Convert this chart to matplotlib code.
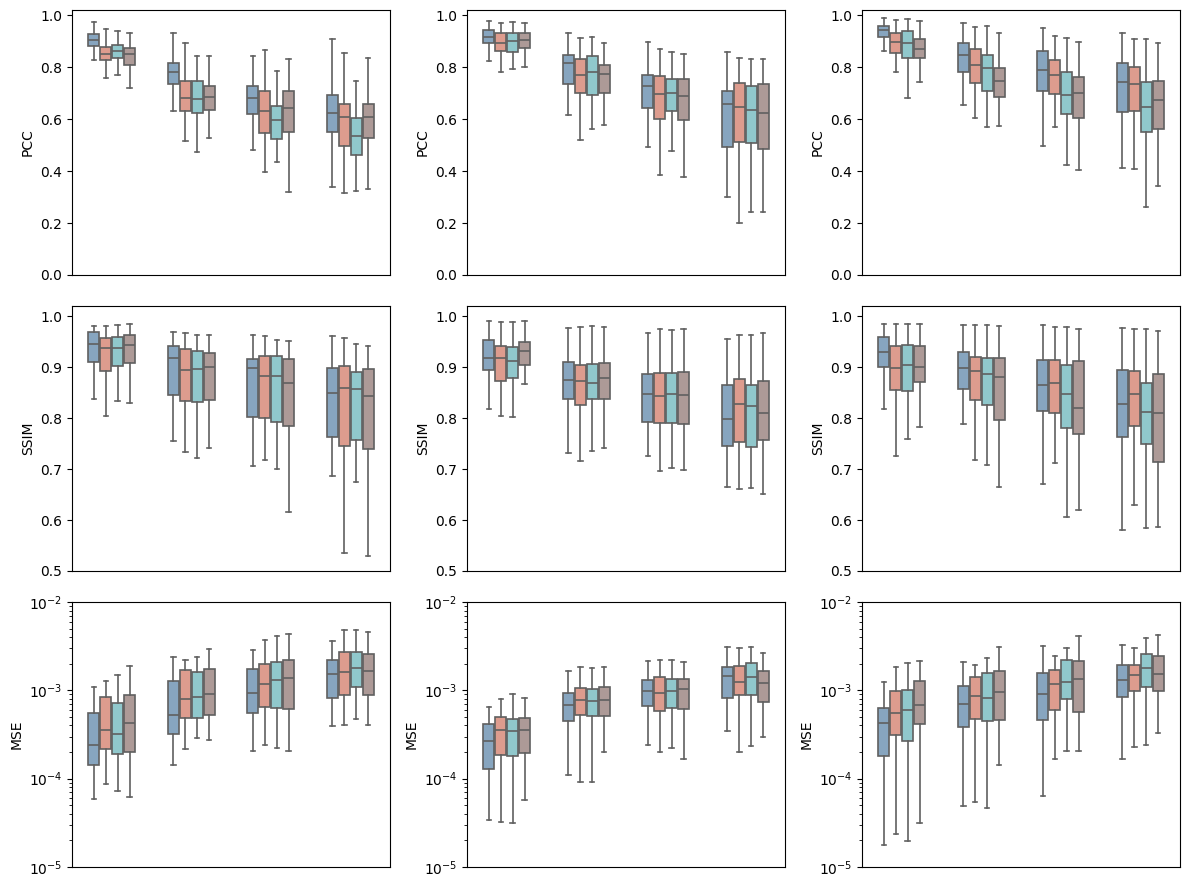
import matplotlib
matplotlib.use("Agg")
import matplotlib.pyplot as plt
import numpy as np

# Each array: rows = 4 groups (x positions), columns = 4 hues (blue, salmon, teal, mauve)
# ---------------- PCC ----------------
pcc1_lo  = [[0.827, 0.757, 0.769, 0.719], [0.631, 0.515, 0.473, 0.527], [0.481, 0.396, 0.435, 0.319], [0.338, 0.315, 0.323, 0.331]]
pcc1_q1  = [[0.882, 0.828, 0.836, 0.808], [0.736, 0.631, 0.623, 0.635], [0.619, 0.546, 0.523, 0.550], [0.550, 0.496, 0.462, 0.527]]
pcc1_med = [[0.905, 0.851, 0.864, 0.851], [0.782, 0.681, 0.677, 0.685], [0.681, 0.631, 0.596, 0.642], [0.623, 0.608, 0.535, 0.608]]
pcc1_q3  = [[0.928, 0.877, 0.885, 0.873], [0.815, 0.746, 0.746, 0.727], [0.729, 0.708, 0.649, 0.708], [0.692, 0.660, 0.606, 0.660]]
pcc1_hi  = [[0.974, 0.946, 0.938, 0.931], [0.933, 0.892, 0.842, 0.842], [0.842, 0.865, 0.785, 0.831], [0.908, 0.854, 0.746, 0.835]]

pcc2_lo  = [[0.823, 0.781, 0.792, 0.800], [0.615, 0.519, 0.562, 0.577], [0.494, 0.385, 0.477, 0.377], [0.302, 0.201, 0.242, 0.242]]
pcc2_q1  = [[0.892, 0.862, 0.858, 0.873], [0.735, 0.700, 0.692, 0.700], [0.642, 0.600, 0.631, 0.596], [0.492, 0.513, 0.508, 0.486]]
pcc2_med = [[0.915, 0.892, 0.900, 0.904], [0.815, 0.769, 0.781, 0.773], [0.727, 0.696, 0.700, 0.688], [0.658, 0.646, 0.635, 0.625]]
pcc2_q3  = [[0.942, 0.931, 0.931, 0.931], [0.846, 0.831, 0.842, 0.808], [0.769, 0.765, 0.754, 0.754], [0.709, 0.738, 0.729, 0.735]]
pcc2_hi  = [[0.977, 0.969, 0.973, 0.969], [0.931, 0.912, 0.915, 0.892], [0.895, 0.869, 0.860, 0.850], [0.858, 0.835, 0.831, 0.831]]

pcc3_lo  = [[0.862, 0.781, 0.681, 0.742], [0.654, 0.604, 0.569, 0.573], [0.496, 0.569, 0.423, 0.404], [0.412, 0.408, 0.262, 0.342]]
pcc3_q1  = [[0.915, 0.854, 0.835, 0.835], [0.781, 0.738, 0.708, 0.685], [0.708, 0.696, 0.619, 0.604], [0.627, 0.631, 0.550, 0.562]]
pcc3_med = [[0.942, 0.896, 0.892, 0.869], [0.846, 0.808, 0.796, 0.746], [0.788, 0.769, 0.692, 0.700], [0.742, 0.735, 0.646, 0.673]]
pcc3_q3  = [[0.958, 0.931, 0.938, 0.908], [0.892, 0.869, 0.846, 0.796], [0.862, 0.827, 0.781, 0.762], [0.815, 0.800, 0.742, 0.746]]
pcc3_hi  = [[0.988, 0.981, 0.985, 0.977], [0.969, 0.954, 0.958, 0.931], [0.950, 0.919, 0.912, 0.896], [0.931, 0.908, 0.908, 0.892]]

# ---------------- SSIM ----------------
ssim1_lo  = [[0.837, 0.804, 0.833, 0.829], [0.755, 0.733, 0.722, 0.741], [0.706, 0.718, 0.700, 0.616], [0.686, 0.535, 0.675, 0.529]]
ssim1_q1  = [[0.911, 0.892, 0.902, 0.908], [0.845, 0.833, 0.831, 0.835], [0.802, 0.800, 0.792, 0.784], [0.763, 0.745, 0.757, 0.739]]
ssim1_med = [[0.945, 0.937, 0.937, 0.943], [0.918, 0.894, 0.896, 0.900], [0.898, 0.882, 0.882, 0.869], [0.849, 0.859, 0.857, 0.843]]
ssim1_q3  = [[0.969, 0.957, 0.959, 0.963], [0.941, 0.935, 0.931, 0.927], [0.916, 0.922, 0.922, 0.916], [0.898, 0.902, 0.890, 0.896]]
ssim1_hi  = [[0.980, 0.980, 0.982, 0.984], [0.969, 0.967, 0.963, 0.963], [0.963, 0.961, 0.953, 0.951], [0.961, 0.957, 0.945, 0.941]]

ssim2_lo  = [[0.818, 0.804, 0.802, 0.867], [0.731, 0.716, 0.735, 0.741], [0.725, 0.696, 0.702, 0.698], [0.665, 0.661, 0.663, 0.651]]
ssim2_q1  = [[0.894, 0.873, 0.878, 0.904], [0.837, 0.825, 0.837, 0.837], [0.792, 0.790, 0.790, 0.788], [0.745, 0.753, 0.743, 0.757]]
ssim2_med = [[0.918, 0.918, 0.912, 0.931], [0.875, 0.873, 0.869, 0.878], [0.847, 0.843, 0.847, 0.845], [0.798, 0.827, 0.823, 0.811]]
ssim2_q3  = [[0.953, 0.941, 0.939, 0.949], [0.910, 0.904, 0.906, 0.908], [0.886, 0.888, 0.888, 0.890], [0.865, 0.876, 0.865, 0.873]]
ssim2_hi  = [[0.990, 0.988, 0.988, 0.990], [0.976, 0.978, 0.980, 0.978], [0.967, 0.975, 0.973, 0.975], [0.955, 0.963, 0.963, 0.967]]

ssim3_lo  = [[0.818, 0.725, 0.759, 0.782], [0.788, 0.718, 0.708, 0.665], [0.671, 0.712, 0.606, 0.620], [0.580, 0.629, 0.584, 0.586]]
ssim3_q1  = [[0.900, 0.855, 0.853, 0.871], [0.857, 0.835, 0.825, 0.796], [0.814, 0.810, 0.780, 0.769], [0.763, 0.784, 0.749, 0.714]]
ssim3_med = [[0.929, 0.898, 0.904, 0.900], [0.898, 0.892, 0.886, 0.880], [0.865, 0.869, 0.847, 0.820], [0.827, 0.847, 0.812, 0.810]]
ssim3_q3  = [[0.959, 0.941, 0.943, 0.941], [0.929, 0.920, 0.918, 0.918], [0.914, 0.914, 0.904, 0.912], [0.894, 0.892, 0.869, 0.886]]
ssim3_hi  = [[0.984, 0.984, 0.984, 0.984], [0.982, 0.982, 0.982, 0.980], [0.982, 0.978, 0.978, 0.974], [0.976, 0.974, 0.974, 0.971]]

# ---------------- MSE ----------------
mse1_lo  = [[5.9e-5, 8.8e-5, 7.3e-5, 6.2e-5], [1.44e-4, 2.19e-4, 2.92e-4, 2.77e-4], [2.08e-4, 2.43e-4, 2.25e-4, 2.08e-4], [3.9e-4, 4.1e-4, 4.68e-4, 4.0e-4]]
mse1_q1  = [[1.44e-4, 2.19e-4, 1.92e-4, 2.03e-4], [3.24e-4, 4.81e-4, 4.81e-4, 5.2e-4], [5.48e-4, 6.41e-4, 6.24e-4, 6.08e-4], [8.1e-4, 8.78e-4, 1.08e-3, 8.78e-4]]
mse1_med = [[2.39e-4, 3.51e-4, 3.24e-4, 4.22e-4], [5.2e-4, 7.9e-4, 8.3e-4, 9.0e-4], [9.25e-4, 1.17e-3, 1.3e-3, 1.37e-3], [1.52e-3, 1.6e-3, 1.78e-3, 1.64e-3]]
mse1_q3  = [[5.48e-4, 8.47e-4, 7.12e-4, 8.78e-4], [1.26e-3, 1.69e-3, 1.6e-3, 1.73e-3], [1.73e-3, 1.97e-3, 2.08e-3, 2.19e-3], [2.19e-3, 2.7e-3, 2.7e-3, 2.56e-3]]
mse1_hi  = [[1.08e-3, 1.26e-3, 1.48e-3, 1.87e-3], [2.37e-3, 2.19e-3, 2.37e-3, 2.92e-3], [2.85e-3, 3.7e-3, 4.11e-3, 4.33e-3], [3.6e-3, 4.8e-3, 4.8e-3, 4.56e-3]]

mse2_lo  = [[3.42e-5, 3.25e-5, 3.16e-5, 5.76e-5], [1.11e-4, 9.25e-5, 9.25e-5, 2.03e-4], [2.43e-4, 2.03e-4, 2.25e-4, 1.69e-4], [3.42e-4, 2.03e-4, 2.37e-4, 3.0e-4]]
mse2_q1  = [[1.27e-4, 1.87e-4, 1.82e-4, 1.97e-4], [4.45e-4, 5.2e-4, 5.07e-4, 5.07e-4], [6.58e-4, 5.77e-4, 6.24e-4, 6.08e-4], [8.1e-4, 8.78e-4, 8.78e-4, 7.31e-4]]
mse2_med = [[2.7e-4, 3.51e-4, 3.42e-4, 3.6e-4], [6.76e-4, 7.7e-4, 7.5e-4, 7.7e-4], [9.75e-4, 9.25e-4, 9.75e-4, 1.03e-3], [1.44e-3, 1.23e-3, 1.41e-3, 1.2e-3]]
mse2_q3  = [[4.11e-4, 4.93e-4, 4.68e-4, 4.81e-4], [9.25e-4, 1.05e-3, 1.03e-3, 1.08e-3], [1.3e-3, 1.41e-3, 1.33e-3, 1.33e-3], [1.82e-3, 1.87e-3, 2.03e-3, 1.64e-3]]
mse2_hi  = [[6.41e-4, 7.9e-4, 9.0e-4, 8.1e-4], [1.64e-3, 1.82e-3, 1.78e-3, 1.82e-3], [2.14e-3, 2.19e-3, 2.19e-3, 2.08e-3], [3.08e-3, 3.0e-3, 3.08e-3, 2.63e-3]]

mse3_lo  = [[1.78e-5, 2.37e-5, 1.97e-5, 3.16e-5], [4.93e-5, 5.48e-5, 4.68e-5, 1.41e-4], [6.4e-5, 1.69e-4, 2.08e-4, 2.08e-4], [1.69e-4, 2.31e-4, 2.43e-4, 3.33e-4]]
mse3_q1  = [[1.82e-4, 3.16e-4, 2.7e-4, 4.11e-4], [3.8e-4, 4.68e-4, 4.45e-4, 4.56e-4], [4.56e-4, 5.93e-4, 7.9e-4, 5.62e-4], [8.3e-4, 9.75e-4, 1.08e-3, 9.75e-4]]
mse3_med = [[4.22e-4, 5.48e-4, 5.93e-4, 6.76e-4], [6.93e-4, 8.55e-4, 8.1e-4, 9.5e-4], [9.0e-4, 1.17e-3, 1.23e-3, 1.33e-3], [1.3e-3, 1.48e-3, 1.78e-3, 1.52e-3]]
mse3_q3  = [[6.24e-4, 9.75e-4, 1.0e-3, 1.26e-3], [1.11e-3, 1.41e-3, 1.56e-3, 1.64e-3], [1.56e-3, 1.69e-3, 2.19e-3, 2.14e-3], [1.92e-3, 1.92e-3, 2.56e-3, 2.43e-3]]
mse3_hi  = [[1.23e-3, 1.82e-3, 2.03e-3, 2.14e-3], [2.08e-3, 1.92e-3, 2.31e-3, 3.08e-3], [3.16e-3, 2.43e-3, 3.0e-3, 4.11e-3], [3.24e-3, 3.0e-3, 3.9e-3, 4.22e-3]]

metric_labels = ["PCC", "SSIM", "MSE"]
hue_colors = ["#87a5bf", "#dd9c8e", "#90c8cc", "#ad9a97"]
edge_color = "#606060"

panels = [
    [(pcc1_lo, pcc1_q1, pcc1_med, pcc1_q3, pcc1_hi),
     (pcc2_lo, pcc2_q1, pcc2_med, pcc2_q3, pcc2_hi),
     (pcc3_lo, pcc3_q1, pcc3_med, pcc3_q3, pcc3_hi)],
    [(ssim1_lo, ssim1_q1, ssim1_med, ssim1_q3, ssim1_hi),
     (ssim2_lo, ssim2_q1, ssim2_med, ssim2_q3, ssim2_hi),
     (ssim3_lo, ssim3_q1, ssim3_med, ssim3_q3, ssim3_hi)],
    [(mse1_lo, mse1_q1, mse1_med, mse1_q3, mse1_hi),
     (mse2_lo, mse2_q1, mse2_med, mse2_q3, mse2_hi),
     (mse3_lo, mse3_q1, mse3_med, mse3_q3, mse3_hi)],
]

fig, axes = plt.subplots(3, 3, figsize=(11.89, 8.88), dpi=100)
fig.subplots_adjust(left=72/1189, right=1180/1189, top=1-10/888, bottom=1-867/888,
                    wspace=0.242, hspace=0.117)

n_groups, n_hues = 4, 4
total_w = 0.6
slot = total_w / n_hues
box_w = slot * 0.93

for r in range(3):
    for c in range(3):
        ax = axes[r, c]
        lo, q1, med, q3, hi = panels[r][c]
        for h in range(n_hues):
            stats = []
            pos = []
            for g in range(n_groups):
                stats.append(dict(whislo=lo[g][h], q1=q1[g][h], med=med[g][h],
                                  q3=q3[g][h], whishi=hi[g][h], fliers=[]))
                pos.append(g - total_w / 2 + slot * (h + 0.5))
            ax.bxp(stats, positions=pos, widths=box_w, patch_artist=True,
                   showfliers=False, capwidths=box_w * 0.4,
                   boxprops=dict(facecolor=hue_colors[h], edgecolor=edge_color, linewidth=1.2),
                   medianprops=dict(color=edge_color, linewidth=1.2),
                   whiskerprops=dict(color=edge_color, linewidth=1.2),
                   capprops=dict(color=edge_color, linewidth=1.2),
                   manage_ticks=False)
        ax.set_xlim(-0.5, 3.5)
        ax.set_xticks([])
        ax.set_ylabel(metric_labels[r])
        if r == 0:
            ax.set_ylim(0, 1.02)
            ax.set_yticks([0.0, 0.2, 0.4, 0.6, 0.8, 1.0])
        elif r == 1:
            ax.set_ylim(0.5, 1.02)
            ax.set_yticks([0.5, 0.6, 0.7, 0.8, 0.9, 1.0])
        else:
            ax.set_yscale("log")
            ax.set_ylim(1e-5, 1e-2)

fig.savefig("out.png", dpi=100)
